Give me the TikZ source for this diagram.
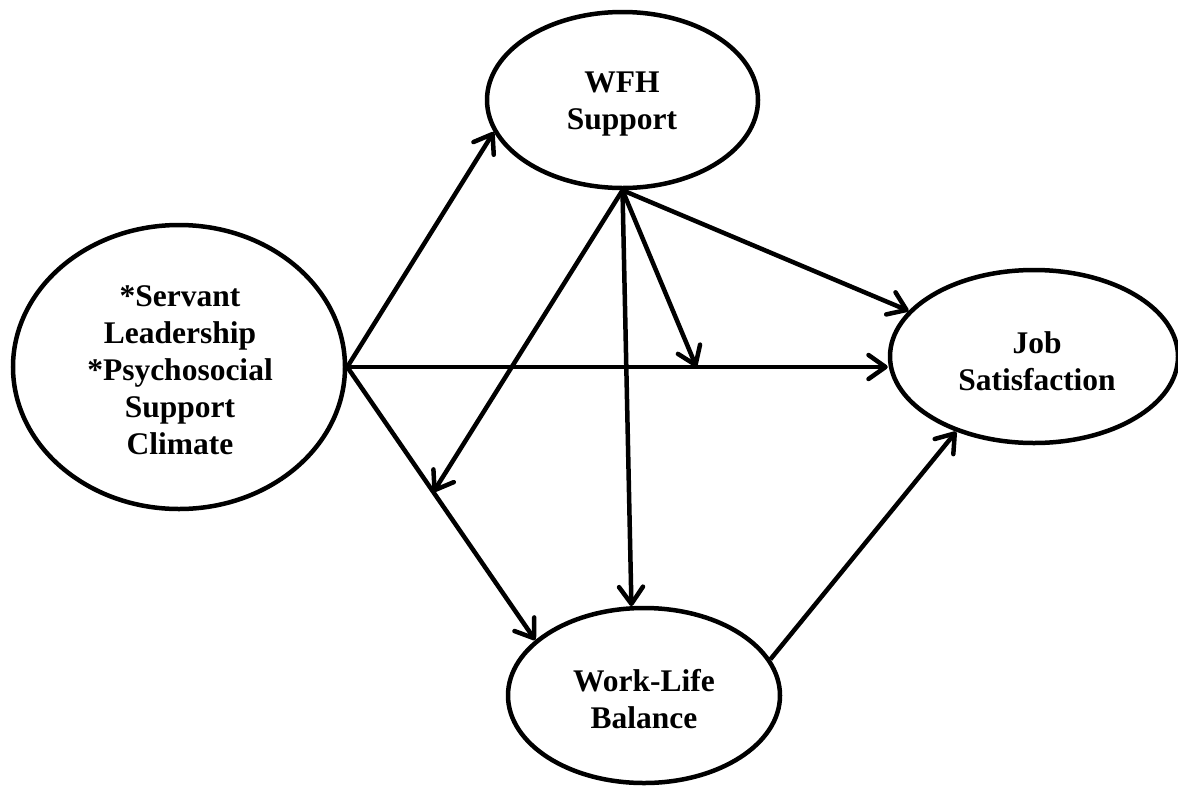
\documentclass[tikz,border=0pt]{standalone}
\usepackage{fontspec}
\setmainfont{Liberation Serif}
\usetikzlibrary{shapes.geometric,arrows.meta,calc}

\tikzset{
  construct/.style={draw, ellipse, line width=4.5pt, inner sep=0pt},
  caption/.style={align=center, inner sep=0pt,
    font=\fontsize{31.5}{37}\selectfont\bfseries},
  path/.style={line width=4.5pt, -{Straight Barb[length=17pt,width=24pt,round]}}
}

\begin{document}
\begin{tikzpicture}[x=1pt,y=-1pt]
  \useasboundingbox (0,0) rectangle (1178,785);

  % latent constructs
  \node[construct, minimum width=332pt, minimum height=284pt] (lv) at (179,367) {};
  \node[construct, minimum width=271pt, minimum height=176pt] (wfh) at (622.5,100) {};
  \node[construct, minimum width=288pt, minimum height=173pt] (js) at (1034,356.5) {};
  \node[construct, minimum width=272pt, minimum height=175pt] (wlb) at (644,695.5) {};

  % their names
  \node[caption] (lv-t)  at (180,370)    {*Servant\\Leadership\\*Psychosocial\\Support\\Climate};
  \node[caption] (wfh-t) at (622,104)    {WFH\\Support};
  \node[caption] (js-t)  at (1037,361)   {Job\\Satisfaction};
  \node[caption] (wlb-t) at (644,699.5)  {Work-Life\\Balance};

  % points where the moderating paths meet the direct paths
  \coordinate (hx) at (lv.east -| js.west);
  \coordinate (m1) at ($(lv.east)!0.646!(hx)$);
  \coordinate (m2) at ($(lv.east)!0.458!(wlb.153)$);

  % direct paths
  \draw[path] (lv.east) -- (wfh.194);
  \draw[path] (lv.east) -- (hx);
  \draw[path] (lv.east) -- (wlb.153);
  \draw[path] (wfh.south) -- (js.160.7);
  \draw[path] (wfh.south) -- (wlb.98);
  \draw[path] (wlb.16) -- (js.224.8);

  % moderating paths
  \draw[path] (wfh.south) -- (m1);
  \draw[path] (wfh.south) -- (m2);
\end{tikzpicture}
\end{document}
